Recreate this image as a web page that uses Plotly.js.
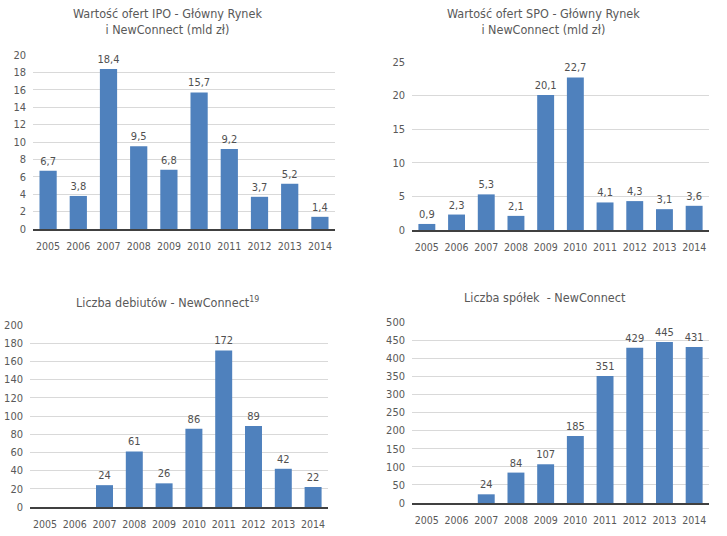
<!DOCTYPE html>
<html>
<head>
<meta charset="utf-8">
<script src="https://cdn.plot.ly/plotly-3.0.1.min.js"></script>
<style>html,body{margin:0;padding:0;background:#fff;}#chart{width:727px;height:536px;}</style>
</head>
<body>
<div id="chart"></div>
<script>
const years = ['2005','2006','2007','2008','2009','2010','2011','2012','2013','2014'];
const ipoValues = [6.7, 3.8, 18.4, 9.5, 6.8, 15.7, 9.2, 3.7, 5.2, 1.4];
const spoValues = [0.9, 2.3, 5.3, 2.1, 20.1, 22.7, 4.1, 4.3, 3.1, 3.6];
const debutValues = [null, null, 24, 61, 26, 86, 172, 89, 42, 22];
const companyValues = [null, null, 24, 84, 107, 185, 351, 429, 445, 431];
const titles = [
  'Wartość ofert IPO - Główny Rynek<br>i NewConnect (mld zł)',
  'Wartość ofert SPO - Główny Rynek<br>i NewConnect (mld zł)',
  'Liczba debiutów - NewConnect<sup>19</sup>',
  'Liczba spółek  - NewConnect'
];

const FONT = '"DejaVu Sans Condensed", "Liberation Sans Narrow", "Liberation Sans", sans-serif';
const BAR = '#4f81bd';
const fmt = v => v === null ? '' : String(v).replace('.', ',');

function bar(vals, xa, ya) {
  return {
    type: 'bar', x: years, y: vals, xaxis: xa, yaxis: ya,
    marker: {color: BAR},
    text: vals.map(fmt), textposition: 'outside', cliponaxis: false,
    constraintext: 'none',
    textfont: {family: FONT, size: 11, color: '#505050'},
    hoverinfo: 'skip', showlegend: false
  };
}

const data = [
  bar(ipoValues, 'x', 'y'),
  bar(spoValues, 'x2', 'y2'),
  bar(debutValues, 'x3', 'y3'),
  bar(companyValues, 'x4', 'y4')
];

function xax(dom, anchor) {
  return {
    domain: dom, anchor: anchor, type: 'category',
    showline: true, linecolor: '#404040', linewidth: 1.5,
    showgrid: false, ticks: '', ticklabelstandoff: 7,
    tickfont: {family: FONT, size: 10.5, color: '#595959'},
    fixedrange: true
  };
}
function yax(dom, anchor, max, dtick) {
  return {
    domain: dom, anchor: anchor, range: [0, max], dtick: dtick,
    showline: false, showgrid: true, gridcolor: '#d9d9d9', gridwidth: 1,
    zeroline: false, ticks: '', ticklabelstandoff: 6,
    tickfont: {family: FONT, size: 11, color: '#595959'},
    fixedrange: true
  };
}

const W = 727, H = 536;
const px = (a, b) => [a / W, b / W];
const py = (top, bot) => [1 - bot / H, 1 - top / H];

const layout = {
  width: W, height: H,
  margin: {l: 0, r: 0, t: 0, b: 0},
  paper_bgcolor: '#fff', plot_bgcolor: '#fff',
  bargap: 0.43,
  font: {family: FONT, color: '#595959'},
  xaxis: xax(px(33, 335), 'y'),
  yaxis: yax(py(55, 229), 'x', 20, 2),
  xaxis2: xax(px(412, 709), 'y2'),
  yaxis2: yax(py(62, 230), 'x2', 25, 5),
  xaxis3: xax(px(30, 328), 'y3'),
  yaxis3: yax(py(325, 507), 'x3', 200, 20),
  xaxis4: xax(px(412, 709), 'y4'),
  yaxis4: yax(py(322, 503), 'x4', 500, 50),
  annotations: [
    {text: titles[0], x: 167 / W, y: 1 - 22 / H},
    {text: titles[1], x: 543 / W, y: 1 - 22 / H},
    {text: titles[2], x: 167 / W, y: 1 - 302 / H},
    {text: titles[3], x: 545 / W, y: 1 - 297 / H}
  ].map(a => Object.assign({
    xref: 'paper', yref: 'paper', xanchor: 'center', yanchor: 'middle',
    showarrow: false, align: 'center',
    font: {family: FONT, size: 12.5, color: '#595959'}
  }, a))
};

Plotly.newPlot('chart', data, layout, {displayModeBar: false, staticPlot: true});
</script>
</body>
</html>
